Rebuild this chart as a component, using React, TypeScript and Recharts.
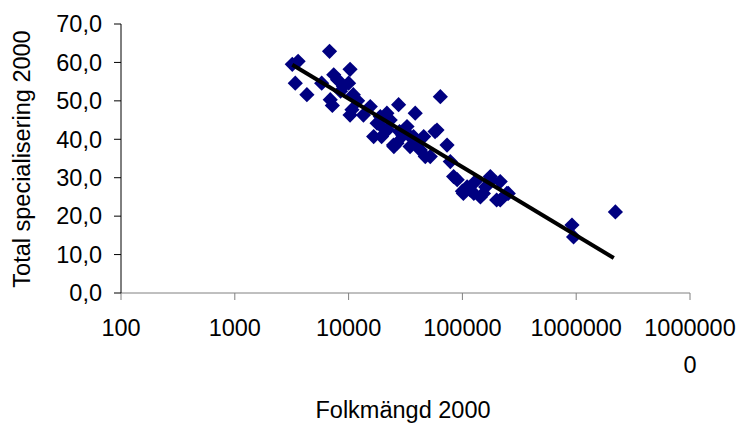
import { ScatterChart, Scatter, XAxis, YAxis, Label } from 'recharts'

// population per region (Folkmängd 2000)
const POP = [
  3200, 3600, 3400, 4300, 5800, 6800, 7400, 6900, 7200, 10300,
  10000, 11000, 10700, 10300, 8000, 8500, 9000, 12000, 13500, 15500,
  17800, 19000, 21700, 23200, 16600, 19500, 20000, 22000, 24800, 25000,
  26600, 27500, 28000, 30000, 32600, 34700, 34800, 37200, 38500, 40000,
  42700, 45700, 47200, 52200, 57500, 59800, 64000, 73300, 78300, 83700,
  90000, 100000, 102000, 110000, 117000, 126000, 130000, 144000, 153000, 160000,
  176000, 180000, 200000, 215000, 215000, 246000, 253000, 918000, 948000, 2210000,
]

// total specialisation index
const SPEC = [
  59.5, 60.3, 54.6, 51.6, 54.6, 62.9, 56.8, 50.3, 48.8, 58.2,
  54.6, 51.6, 47.7, 46.3, 55.5, 52.5, 53.8, 50.0, 46.3, 48.5,
  44.2, 45.9, 46.8, 45.0, 40.7, 40.7, 43.0, 42.5, 38.5, 38.1,
  39.0, 49.0, 42.0, 41.0, 43.3, 38.1, 40.7, 40.7, 46.8, 39.5,
  37.2, 40.7, 35.5, 35.5, 42.0, 42.4, 51.1, 38.5, 34.2, 30.3,
  29.5, 26.5, 25.9, 27.6, 26.8, 25.9, 29.0, 25.0, 25.9, 27.6,
  30.3, 29.4, 24.2, 29.0, 24.2, 25.9, 25.9, 17.7, 14.6, 21.1,
]

// logarithmic trendline end points
const TREND_X = [3200, 2140000]
const TREND_Y = [59.4, 9.1]

const X_TICKS = [100, 1000, 10000, 100000, 1000000, 10000000]
const Y_TICKS = [0, 10, 20, 30, 40, 50, 60, 70]

const points = POP.map((x, i) => ({ x, y: SPEC[i] }))
const trend = TREND_X.map((x, i) => ({ x, y: TREND_Y[i] }))

const FONT = '"Liberation Sans", Arial, sans-serif'
const FS = 23.5

function Diamond(props: any) {
  const { cx, cy } = props
  const r = 7.6
  return (
    <polygon
      points={`${cx},${cy - r} ${cx + r},${cy} ${cx},${cy + r} ${cx - r},${cy}`}
      fill="#000080"
    />
  )
}

function XTick(props: any) {
  const { x, y, payload } = props
  const label = String(payload.value)
  // Excel wraps the widest label onto a second line
  const lines = label.length > 7 ? [label.slice(0, 7), label.slice(7)] : [label]
  return (
    <text x={x} y={y} textAnchor="middle" fontFamily={FONT} fontSize={FS} fill="#000">
      {lines.map((l, i) => (
        <tspan key={i} x={x} dy={i === 0 ? 36 : 37}>{l}</tspan>
      ))}
    </text>
  )
}

export default function App() {
  return (
    <div style={{ position: 'absolute', left: 0, top: 0, width: 740, height: 423, background: '#fff' }}>
      <ScatterChart width={740} height={423} margin={{ top: 24, right: 50, bottom: 0, left: 0 }}>
        <XAxis
          type="number"
          dataKey="x"
          scale="log"
          domain={[100, 10000000]}
          ticks={X_TICKS}
          interval={0}
          allowDataOverflow
          height={130}
          stroke="#808080"
          tickSize={7}
          tickMargin={0}
          tick={<XTick />}
        >
          <Label
            content={() => (
              <text x={403} y={418} textAnchor="middle" fontFamily={FONT} fontSize={FS} fill="#000">
                Folkmängd 2000
              </text>
            )}
          />
        </XAxis>
        <YAxis
          type="number"
          dataKey="y"
          domain={[0, 70]}
          ticks={Y_TICKS}
          interval={0}
          width={121}
          stroke="#000"
          tickSize={7}
          tickMargin={12}
          tickFormatter={(v: number) => v.toFixed(1).replace('.', ',')}
          tick={{ fill: '#000', fontSize: FS, fontFamily: FONT }}
        >
          <Label
            content={() => (
              <text
                x={30}
                y={159}
                transform="rotate(-90 30 159)"
                textAnchor="middle"
                fontFamily={FONT}
                fontSize={FS}
                fill="#000"
              >
                Total specialisering 2000
              </text>
            )}
          />
        </YAxis>
        <Scatter data={points} shape={<Diamond />} isAnimationActive={false} />
        <Scatter
          data={trend}
          line={{ stroke: '#000', strokeWidth: 4 }}
          shape={() => <g />}
          isAnimationActive={false}
        />
      </ScatterChart>
    </div>
  )
}
